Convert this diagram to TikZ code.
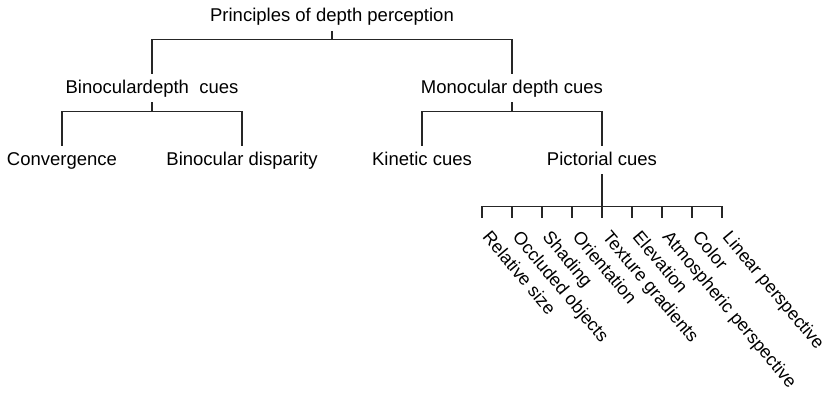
\documentclass[tikz,border=0pt]{standalone}
\usepackage{fontspec}
\setmainfont{Liberation Sans}
\begin{document}
\begin{tikzpicture}[x=1pt,y=-1pt,
  cue/.style={anchor=base,inner xsep=0pt,inner ysep=5pt,text height=14pt,text depth=4pt,
    font=\fontsize{18.5}{22}\selectfont},
  leaf/.style={anchor=north west,rotate=-50,inner sep=0pt,text height=13.2pt,text depth=4pt,
    font=\fontsize{18}{22}\selectfont},
  link/.style={line width=1.2pt,draw=black!85}]
\useasboundingbox (0,0) rectangle (827,396);

% tree nodes (positioned by baseline)
\node[cue] (root) at (332,22) {Principles of depth perception};
\node[cue] (bin)  at (152,93) {Binoculardepth\ \ cues};
\node[cue] (mon)  at (512,93) {Monocular depth cues};
\node[cue] (conv) at (62,165)  {Convergence};
\node[cue] (disp) at (242,165) {Binocular disparity};
\node[cue] (kin)  at (422,165) {Kinetic cues};
\node[cue] (pict) at (602,165) {Pictorial cues};

% brackets
\draw[link] (root.south) -- ++(0,8) coordinate (j0);
\draw[link] (j0) -| (bin.north);
\draw[link] (j0) -| (mon.north);
\draw[link] (bin.south) -- ++(0,9) coordinate (j1);
\draw[link] (j1) -| (conv.north);
\draw[link] (j1) -| (disp.north);
\draw[link] (mon.south) -- ++(0,9) coordinate (j2);
\draw[link] (j2) -| (kin.north);
\draw[link] (j2) -| (pict.north);
\draw[link] (pict.south) -- ++(0,32) coordinate (j3);

% pictorial cues, one tick and rotated label each
\foreach \lab [count=\i] in {Relative size,Occluded objects,Shading,Orientation,
    Texture gradients,Elevation,Atmospheric perspective,Color,Linear perspective}{
  \coordinate (t\i) at (452+30*\i,218);
  \draw[link] (j3) -| (t\i);
  \node[leaf] (c\i) at ([shift={(10,11)}]t\i) {\lab};
}
\end{tikzpicture}
\end{document}
